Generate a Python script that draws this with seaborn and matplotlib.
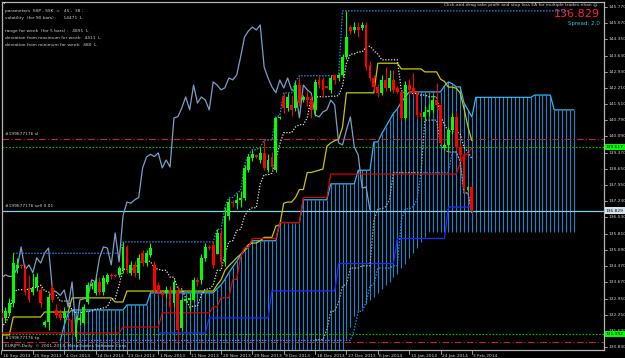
import numpy as np
import pandas as pd
import matplotlib
matplotlib.use("Agg")
import matplotlib.pyplot as plt
import seaborn as sns

# ---------------- data (EURJPY daily) ----------------
date_labels = ["16 Sep 2013", "25 Sep 2013", "4 Oct 2013", "14 Oct 2013", "23 Oct 2013",
               "1 Nov 2013", "11 Nov 2013", "20 Nov 2013", "29 Nov 2013", "9 Dec 2013",
               "18 Dec 2013", "27 Dec 2013", "6 Jan 2014", "15 Jan 2014", "24 Jan 2014",
               "3 Feb 2014"]
price_labels = [145.770, 145.070, 144.350, 143.630, 142.930, 142.210, 141.510, 140.790,
                140.090, 139.370, 138.650, 137.950, 137.230, 136.530, 135.810, 135.090,
                134.370, 133.670, 132.950, 132.250, 131.530, 130.830]

opens = [132.33, 132.11, 132.33, 132.77, 134.30, 134.44, 134.30, 133.43, 133.25, 133.47, 133.34, 131.80,
         131.93, 133.43, 132.46, 132.30, 132.11, 132.05, 132.02, 131.27, 132.02, 131.89, 132.81, 133.50,
         133.21, 133.69, 133.25, 133.69, 134.00, 134.00, 134.00, 134.22, 135.23, 134.10, 134.44, 134.10,
         134.96, 134.52, 134.88, 134.44, 133.56, 133.20, 133.21, 133.34, 132.77, 133.34, 131.67, 132.85,
         132.90, 132.90, 133.78, 133.78, 134.75, 135.20, 135.31, 134.90, 135.84, 134.57, 136.60, 137.20,
         137.15, 137.30, 137.40, 138.61, 139.15, 139.25, 139.05, 139.36, 138.61, 139.18, 138.61, 140.90,
         141.82, 141.34, 141.47, 141.34, 142.34, 141.68, 141.82, 141.68, 141.25, 142.57, 142.57, 142.28,
         142.13, 142.78, 142.65, 142.78, 143.58, 144.89, 144.76, 144.89, 144.85, 144.98, 143.22, 142.65,
         142.26, 141.99, 142.56, 142.21, 142.56, 142.21, 142.04, 140.90, 142.34, 142.21, 141.99, 141.11,
         140.94, 141.16, 141.25, 141.68, 141.47, 139.58, 139.71, 140.37, 140.94, 139.62, 139.18, 137.73,
         137.86]
highs = [132.50, 132.60, 133.00, 134.95, 134.75, 134.50, 134.50, 134.00, 134.10, 134.10, 133.50, 132.00,
         133.20, 133.60, 132.70, 132.50, 132.60, 132.10, 132.20, 132.20, 132.30, 132.70, 133.70, 133.70,
         133.90, 133.90, 134.00, 134.10, 134.10, 134.05, 134.40, 135.45, 135.30, 134.60, 134.60, 134.90,
         135.10, 135.10, 135.40, 134.60, 133.70, 133.30, 133.50, 133.50, 133.80, 133.50, 133.00, 133.00,
         133.20, 133.90, 133.90, 134.90, 135.40, 135.30, 135.50, 136.00, 136.00, 137.00, 137.40, 137.30,
         137.60, 137.70, 138.85, 139.30, 139.50, 139.30, 139.60, 139.93, 139.30, 139.40, 140.95, 141.00,
         142.00, 142.00, 141.90, 142.50, 142.70, 141.90, 142.10, 141.90, 142.60, 142.75, 142.70, 142.30,
         142.80, 142.78, 142.85, 143.70, 145.60, 145.00, 145.11, 145.11, 145.11, 145.10, 143.40, 142.80,
         142.40, 142.80, 143.14, 143.00, 143.00, 142.30, 142.10, 142.50, 142.60, 142.87, 142.10, 141.20,
         141.40, 141.50, 141.90, 142.43, 141.60, 139.80, 140.50, 141.10, 141.20, 139.80, 139.30, 137.90,
         137.90]
lows = [131.95, 131.95, 132.20, 132.60, 134.10, 134.30, 133.10, 132.80, 133.10, 133.30, 132.60, 131.70,
        131.60, 132.80, 132.10, 132.00, 131.90, 131.95, 131.30, 131.10, 131.80, 131.80, 132.70, 133.40,
        133.10, 133.10, 133.10, 133.60, 133.80, 133.90, 133.90, 134.10, 134.10, 134.00, 133.90, 133.80,
        134.40, 134.40, 134.80, 133.20, 133.10, 133.00, 133.00, 132.40, 132.60, 131.15, 131.60, 132.80,
        132.40, 132.80, 133.50, 133.60, 134.60, 135.10, 134.30, 134.90, 134.40, 134.40, 136.40, 137.00,
        136.90, 137.00, 137.30, 138.50, 139.00, 139.15, 138.90, 138.60, 138.50, 138.60, 138.50, 140.85,
        141.10, 141.20, 141.00, 141.20, 141.40, 141.60, 141.40, 140.90, 141.00, 142.20, 141.82, 142.20,
        142.00, 142.40, 142.50, 142.70, 143.50, 144.60, 144.63, 144.45, 144.76, 143.00, 142.50, 142.10,
        141.80, 141.90, 142.10, 142.10, 142.00, 142.00, 140.80, 140.80, 141.90, 141.82, 140.90, 140.90,
        140.80, 141.00, 141.10, 141.30, 139.70, 139.50, 139.40, 140.20, 139.50, 139.00, 137.60, 137.70,
        136.70]
closes = [132.11, 132.40, 132.77, 134.52, 134.44, 134.40, 133.25, 132.90, 133.43, 133.90, 132.77, 131.93,
          133.03, 132.90, 132.24, 132.10, 132.37, 132.00, 131.50, 132.02, 132.11, 132.59, 133.56, 133.60,
          133.69, 133.25, 133.86, 134.00, 133.93, 133.95, 134.30, 135.23, 134.22, 134.44, 134.10, 134.75,
          134.52, 134.96, 135.18, 133.34, 133.25, 133.10, 133.34, 132.59, 133.69, 131.58, 132.90, 132.95,
          133.00, 133.78, 133.70, 134.75, 135.23, 135.18, 134.44, 135.84, 134.57, 136.60, 137.20, 137.15,
          137.30, 137.40, 138.70, 139.18, 139.30, 139.20, 139.36, 138.70, 139.05, 138.74, 140.90, 140.95,
          141.34, 141.82, 141.25, 142.34, 141.55, 141.82, 141.68, 141.25, 142.48, 142.34, 142.13, 142.22,
          142.65, 142.57, 142.78, 143.58, 144.45, 144.72, 144.89, 144.76, 144.98, 143.14, 142.65, 142.26,
          142.00, 142.56, 142.21, 142.65, 142.13, 142.04, 140.90, 142.34, 142.13, 141.99, 141.03, 140.94,
          141.16, 141.25, 141.68, 141.47, 139.80, 139.71, 140.37, 140.94, 139.62, 139.27, 137.82, 137.86,
          136.85]

# Ichimoku lines, one value per bar
tenkan = [131.70, 131.90, 132.20, 133.20, 133.35, 133.35, 133.35, 133.37, 133.45, 133.45, 133.55, 133.30,
          133.25, 133.10, 133.10, 132.85, 132.85, 132.85, 132.45, 132.35, 132.35, 132.35, 132.40, 132.40,
          132.50, 132.50, 132.55, 132.60, 132.95, 132.95, 133.55, 134.25, 134.25, 134.25, 134.25, 134.50,
          134.60, 134.60, 134.60, 134.30, 134.25, 134.20, 134.20, 133.90, 133.90, 133.38, 133.38, 132.98,
          132.58, 132.63, 132.63, 133.13, 133.38, 133.38, 133.55, 134.20, 134.20, 134.90, 135.45, 135.50,
          135.95, 136.00, 136.58, 136.85, 136.95, 136.95, 138.00, 138.40, 138.40, 138.47, 139.10, 139.75,
          140.25, 140.25, 140.25, 140.50, 140.60, 140.60, 140.90, 141.78, 141.80, 141.83, 141.83, 141.83,
          141.85, 141.85, 141.88, 142.30, 143.30, 143.70, 143.71, 143.80, 143.80, 144.00, 144.05, 143.85,
          143.70, 143.45, 143.45, 143.45, 143.45, 143.45, 142.10, 141.97, 141.97, 141.97, 141.97, 141.90,
          141.90, 141.83, 141.83, 141.83, 141.00, 140.60, 140.30, 140.30, 140.30, 140.20, 139.60, 139.40,
          139.10]
kijun = ([131.36] * 3 + [132.15] * 8 + [132.37] * 7 + [132.99] * 11 + [132.81] * 3 + [133.29] * 23 +
         [133.56, 133.78, 134.20, 134.40, 134.57, 134.75, 134.90, 135.10, 135.33, 135.40, 135.40, 135.50,
          135.65, 135.65, 135.65, 136.15, 136.20, 137.15, 137.20, 137.20, 137.40, 137.75, 137.75, 138.50,
          138.50, 138.55, 138.60, 138.65, 139.65, 139.80, 139.90, 139.95, 140.50] +
         [142.00] * 8 + [143.30] * 6 + [143.05] * 6 + [142.92] * 4 +
         [142.60, 142.50, 142.25, 142.25, 142.20, 142.00, 141.30, 140.50, 139.90])
# cloud edges, bars 0..146 (26 bars ahead of the last candle)
span_top = ([np.nan] * 15 + [131.10, 131.80, 132.30] + [132.46] * 14 + [132.68] * 6 + [133.21] * 17 +
            [133.40, 133.56, 133.80, 134.10, 134.35, 134.60, 134.85, 135.05, 135.23] + [135.50] * 7 +
            [136.30] * 6 + [137.30] * 7 + [138.00] * 7 + [138.60] * 4 + [139.84] * 2 +
            [140.20, 140.50, 140.80, 141.10, 141.30, 141.60, 141.80] + [142.04] * 9 +
            [142.30, 142.48, 142.40, 142.26, 142.26, 141.55, 141.25, 140.94] + [141.80] * 15 +
            [141.90] * 5 + [141.25] * 6)
span_bottom = ([130.00] * 88 +
               [131.20, 131.70, 132.20, 132.40, 132.55, 132.70, 132.90, 133.05, 133.20, 133.40, 133.55,
                133.70, 133.90, 134.05, 134.30, 134.50, 134.75, 134.95, 135.20, 135.45, 135.65] +
               [135.90] * 38)

red_line = ([131.45] * 31 + [131.71] * 10 + [132.33] * 13 + [132.60] * 2 + [133.00] * 3 + [133.80] * 2 +
            [134.80] + [135.20] * 2 + [135.60] * 7 + [136.30] * 6 + [137.40] * 7 + [138.43] * 33 +
            [138.90, 139.30, 139.30, 139.60])
blue_line = ([np.nan] * 40 + [131.45] * 13 + [132.11] * 16 + [133.30] * 17 + [134.50] * 15 +
             [135.60] * 13 + [136.98] * 7)
# channel lines (SSP = 45 blue, SSK = 38 grey)
upper_dots = ([np.nan] * 3 + [134.95] * 28 + [135.45] * 24 + [136.00, 136.00, 137.00, 137.40, 137.40,
              137.60, 137.70, 138.85, 139.30, 139.50, 139.50, 139.60, 139.93, 139.93, 139.93, 140.95,
              141.00, 142.00, 142.00, 142.00, 142.50] + [142.75] * 11 + [145.60] * 59)
lower_dots = ([np.nan] * 19 + [131.12] * 71 +
              [131.60, 132.40, 132.40, 132.80, 133.50, 133.60, 134.30, 134.30, 134.30, 134.30, 134.40,
               134.40, 136.40, 136.90, 136.90, 137.00, 137.30] + [138.50] * 8 +
              [139.40, 139.40, 139.00, 137.60, 137.60, 136.70])
lower_grey = ([np.nan] * 80 + [131.15] * 3 +
              [131.60, 132.40, 132.40, 132.80, 133.50, 133.60, 134.30, 134.30, 134.30, 134.40, 134.40,
               134.40, 136.40, 136.90, 136.90, 137.00, 137.30] + [138.50] * 8 + [140.80] * 4 +
              [139.70, 139.50, 139.40, 139.40, 139.40, 139.00, 137.60, 137.60, 136.70])

order_lines = {"sl": 139.97, "sl_mark": 139.62, "bid": 136.829, "tp_mark": 131.392, "tp": 131.05}

# ---------------- figure ----------------
sns.set_theme(style="dark", rc={"axes.facecolor": "black", "figure.facecolor": "black"})
plt.rcParams["font.family"] = ["DejaVu Sans"]

fig = plt.figure(figsize=(6.25, 3.58), dpi=100)
ax = fig.add_axes([2 / 625, 8 / 358, 602 / 625, 348 / 358])
ax.set_facecolor("black")
ax.set_xlim(0.13, 153.7)
ax.set_ylim(130.70, 145.99)

n = len(closes)
bars = np.arange(n)

# Ichimoku cloud, hatched with one vertical line per bar
ext = np.arange(len(span_top))
sa = np.array(span_top, dtype=float)
sb = np.array(span_bottom, dtype=float)
ax.vlines(ext, np.fmin(sa, sb), np.fmax(sa, sb), color="#1c86c8", lw=0.8, zorder=1)
ax.plot(ext, sa, color="#30b8f0", lw=0.9, zorder=2)

# horizontal order lines
ax.axhline(order_lines["sl"], color="#c8203c", lw=0.8, ls=(0, (6, 2, 1, 2)), zorder=2)
ax.axhline(order_lines["sl_mark"], color="#00c000", lw=0.8, ls=(0, (1.5, 1.5)), zorder=2)
ax.axhline(order_lines["bid"], color="#7fd4f4", lw=0.9, zorder=2)
ax.axhline(order_lines["tp_mark"], color="#00c000", lw=0.8, ls=(0, (1.5, 1.5)), zorder=2)
ax.axhline(order_lines["tp"], color="#c8203c", lw=0.8, ls=(0, (6, 2, 1, 2)), zorder=2)

# indicator lines
df_k = pd.DataFrame({"bar": bars, "kijun": kijun})
sns.lineplot(data=df_k, x="bar", y="kijun", ax=ax, color="#c8c800", lw=0.9, legend=False, zorder=3)
ax.plot(bars, tenkan, color="#e0e0e0", lw=0.9, ls=(0, (1, 1.3)), zorder=3)
ax.plot(bars[:n - 26], closes[26:], color="#7b9fc8", lw=0.9, zorder=3)
ax.plot(bars, red_line, color="#e00000", lw=0.9, zorder=3)
ax.plot(bars, blue_line, color="#1830ff", lw=0.9, zorder=3)
ax.plot(np.arange(len(upper_dots)), upper_dots, color="#2a8cf0", lw=0.9, ls=(0, (1.2, 1.2)), zorder=3)
ax.plot(bars, lower_dots, color="#2a8cf0", lw=0.9, ls=(0, (1.2, 1.2)), zorder=3)
ax.plot(bars, lower_grey, color="#a8a8a8", lw=0.9, ls=(0, (1.2, 1.2)), zorder=3)

# candles
o = np.array(opens); c = np.array(closes); h = np.array(highs); l = np.array(lows)
up = c >= o
cols = np.where(up, "#00ff00", "#ff0000")
ax.vlines(bars, l, h, colors=cols, lw=0.8, zorder=4)
ax.bar(bars, np.maximum(np.abs(c - o), 0.03), bottom=np.minimum(o, c), width=0.72,
       color=cols, linewidth=0, zorder=5)

# axes cosmetics
ax.set_xticks([]); ax.set_yticks([])
ax.set_xlabel(""); ax.set_ylabel("")
for s in ax.spines.values():
    s.set_color("#b4b4b4"); s.set_linewidth(0.9)

small = dict(color="#d0d0d0", fontsize=3.2)
ytr = ax.get_yaxis_transform()
for p in price_labels:
    ax.text(1.007, p, f"{p:.3f}", transform=ytr, va="center", ha="left", **small)
    ax.plot([1.0, 1.005], [p, p], transform=ytr, color="#b4b4b4", lw=0.6, clip_on=False)
ax.text(1.003, order_lines["sl_mark"], "139.617", transform=ytr, va="center", ha="left",
        color="black", fontsize=3.2, bbox=dict(boxstyle="square,pad=0.25", fc="#00ff00", ec="none"))
ax.text(1.003, order_lines["bid"], "136.829", transform=ytr, va="center", ha="left",
        color="black", fontsize=3.2, bbox=dict(boxstyle="square,pad=0.25", fc="#d8e4f0", ec="none"))
ax.text(1.003, order_lines["tp_mark"], "131.392", transform=ytr, va="center", ha="left",
        color="black", fontsize=3.2, bbox=dict(boxstyle="square,pad=0.25", fc="#00ff00", ec="none"))

xtr = ax.get_xaxis_transform()
for k, lab in enumerate(date_labels):
    b = 8 * k
    ax.plot([b, b], [0, -0.012], transform=xtr, color="#b4b4b4", lw=0.6, clip_on=False)
    ax.text(b + 0.4, -0.012, lab, transform=xtr, va="top", ha="left", **small)

info = ["parameters  SSP , SSK  =   45 ,  38 ;", "volatility  (for 90 bars) :     14471  L", "",
        "range for week  (for 5 bars) :   4891  L", "deviation from maximum for week:  4411  L",
        "deviation from minimum for week:  480  L"]
for i, t in enumerate(info):
    fig.text(5 / 625, 1 - (11 + 6.8 * i) / 358, t, va="center", ha="left", **small)
fig.text(3 / 625, 1 - 4 / 358, "\u25bc", color="#d0d0d0", fontsize=2.5, va="center", ha="left")
fig.text(597 / 625, 1 - 5 / 358, "Click-and-drag take profit and stop loss EA for multiple trades-nhan \u263a",
         va="center", ha="right", color="#d0d0d0", fontsize=3.2)
fig.text(600 / 625, 1 - 14 / 358, "136.829", va="center", ha="right", color="#ff2040", fontsize=8)
fig.text(600 / 625, 1 - 24 / 358, "Spread: 2.0", va="center", ha="right", color="#20d0d0", fontsize=4)
ax.text(1.0, order_lines["sl"] + 0.12, "#199677176 sl", va="bottom", ha="left", **small)
ax.text(1.0, order_lines["bid"] + 0.1, "#199677176 sell 0.01", va="bottom", ha="left", **small)
ax.text(1.0, order_lines["tp"] + 0.1, "#199677176 tp", va="bottom", ha="left", **small)
fig.text(5 / 625, 1 - 346 / 358, "EURJPY,Daily  \u00a9 2001-2013, MetaQuotes Software Corp.", va="center",
         ha="left", **small)

fig.savefig("out.png", dpi=100, facecolor="black")
